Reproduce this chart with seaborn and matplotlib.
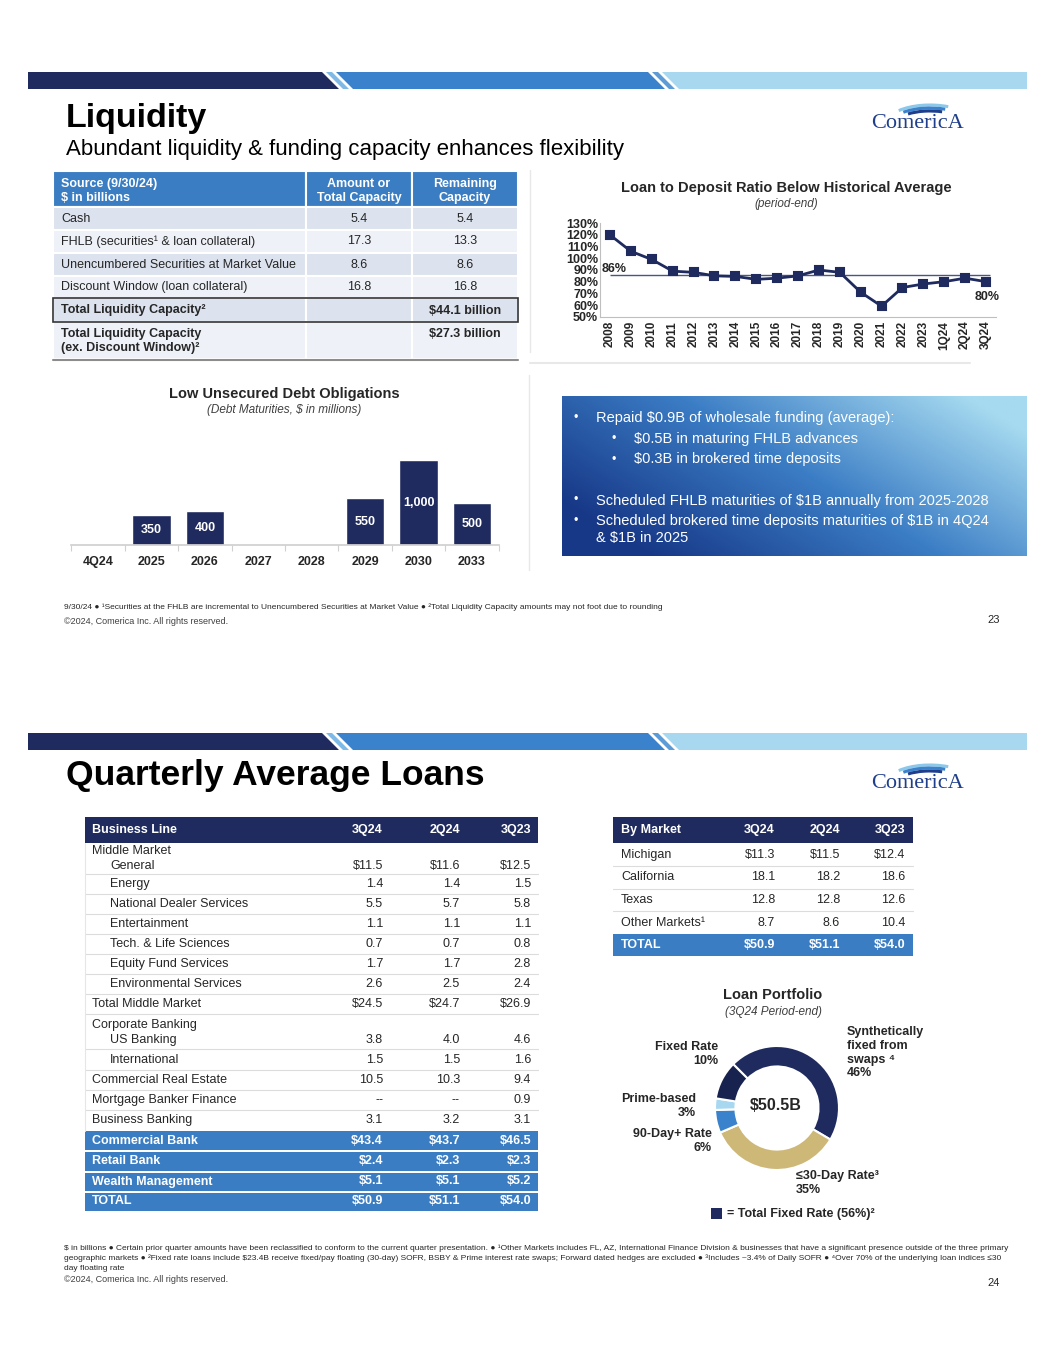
import numpy as np
import pandas as pd
import matplotlib
matplotlib.use("Agg")
import matplotlib.pyplot as plt
from matplotlib.patches import Rectangle, Polygon, Arc
from matplotlib.colors import LinearSegmentedColormap
import seaborn as sns

sns.set_theme(style="white")
plt.rcParams["font.family"] = ["Liberation Sans", "DejaVu Sans"]

W, H = 1055, 1365
NAVY = "#1f2b5e"
DARK_NAVY = "#18224e"
BLUE = "#3a7dc3"
MID_BLUE = "#3b82cc"
LIGHT_BLUE = "#a8d8ef"
TAN = "#cdb878"
TEXT = "#262626"

# ---------------- data ----------------
ltd_periods = ["2008", "2009", "2010", "2011", "2012", "2013", "2014", "2015", "2016",
               "2017", "2018", "2019", "2020", "2021", "2022", "2023", "1Q24", "2Q24", "3Q24"]
ltd_ratio = [120, 106, 99, 89, 88, 85, 84.5, 82, 83, 85, 90, 88, 71, 59, 75, 78, 80, 83, 80]
ltd_avg = 86

debt_years = ["4Q24", "2025", "2026", "2027", "2028", "2029", "2030", "2033"]
debt_maturities = [0, 350, 400, 0, 0, 550, 1000, 500]

liq_sources = ["Cash", "FHLB (securities¹ & loan collateral)",
               "Unencumbered Securities at Market Value", "Discount Window (loan collateral)"]
liq_amount = ["5.4", "17.3", "8.6", "16.8"]
liq_remaining = ["5.4", "13.3", "8.6", "16.8"]
liq_total = "$44.1 billion"
liq_total_ex_dw = "$27.3 billion"

funding_bullets = [
    (0, "Repaid $0.9B of wholesale funding (average):"),
    (1, "$0.5B in maturing FHLB advances"),
    (1, "$0.3B in brokered time deposits"),
    (0, "Scheduled FHLB maturities of $1B annually from 2025-2028"),
    (0, "Scheduled brokered time deposits maturities of $1B in 4Q24\n& $1B in 2025"),
]

quarters = ["3Q24", "2Q24", "3Q23"]
biz_lines = ["Middle Market", "General", "Energy", "National Dealer Services", "Entertainment",
             "Tech. & Life Sciences", "Equity Fund Services", "Environmental Services",
             "Total Middle Market", "Corporate Banking", "US Banking", "International",
             "Commercial Real Estate", "Mortgage Banker Finance", "Business Banking",
             "Commercial Bank", "Retail Bank", "Wealth Management", "TOTAL"]
biz_3q24 = ["", "$11.5", "1.4", "5.5", "1.1", "0.7", "1.7", "2.6", "$24.5", "", "3.8", "1.5",
            "10.5", "--", "3.1", "$43.4", "$2.4", "$5.1", "$50.9"]
biz_2q24 = ["", "$11.6", "1.4", "5.7", "1.1", "0.7", "1.7", "2.5", "$24.7", "", "4.0", "1.5",
            "10.3", "--", "3.2", "$43.7", "$2.3", "$5.1", "$51.1"]
biz_3q23 = ["", "$12.5", "1.5", "5.8", "1.1", "0.8", "2.8", "2.4", "$26.9", "", "4.6", "1.6",
            "9.4", "0.9", "3.1", "$46.5", "$2.3", "$5.2", "$54.0"]
biz_indented = ["General", "Energy", "National Dealer Services", "Entertainment",
                "Tech. & Life Sciences", "Equity Fund Services", "Environmental Services",
                "US Banking", "International"]
biz_banded = ["Commercial Bank", "Retail Bank", "Wealth Management", "TOTAL"]

markets = ["Michigan", "California", "Texas", "Other Markets¹", "TOTAL"]
mkt_3q24 = ["$11.3", "18.1", "12.8", "8.7", "$50.9"]
mkt_2q24 = ["$11.5", "18.2", "12.8", "8.6", "$51.1"]
mkt_3q23 = ["$12.4", "18.6", "12.6", "10.4", "$54.0"]

portfolio_labels = ["Synthetically\nfixed from\nswaps ⁴", "≤30-Day Rate³", "90-Day+ Rate",
                    "Prime-based", "Fixed Rate"]
portfolio_share = [46, 35, 6, 3, 10]
portfolio_colors = [NAVY, TAN, MID_BLUE, LIGHT_BLUE, DARK_NAVY]
portfolio_total = "$50.5B"

# ---------------- canvas ----------------
fig = plt.figure(figsize=(W / 100, H / 100), dpi=100)
bg = fig.add_axes([0, 0, 1, 1])
bg.set_xlim(0, W)
bg.set_ylim(H, 0)
bg.axis("off")


def ax_px(x0, y0, x1, y1):
    return fig.add_axes([x0 / W, 1 - y1 / H, (x1 - x0) / W, (y1 - y0) / H])


def txt(x, y, s, size=9, weight="normal", color=TEXT, ha="left", va="center", **kw):
    bg.text(x, y, s, fontsize=size, fontweight=weight, color=color, ha=ha, va=va, **kw)


def stripe(y0, y1):
    h = y1 - y0
    bg.add_patch(Polygon([(28, y0), (322, y0), (322 + h, y1), (28, y1)], color=NAVY, lw=0))
    bg.add_patch(Polygon([(326, y0), (332, y0), (332 + h, y1), (326 + h, y1)], color="#7fb9e6", lw=0))
    bg.add_patch(Polygon([(336, y0), (648, y0), (648 + h, y1), (336 + h, y1)], color=MID_BLUE, lw=0))
    bg.add_patch(Polygon([(652, y0), (658, y0), (658 + h, y1), (652 + h, y1)], color="#5d9bd6", lw=0))
    bg.add_patch(Polygon([(662, y0), (1027, y0), (1027, y1), (662 + h, y1)], color=LIGHT_BLUE, lw=0))


def logo(cx, cy):
    for w, hh, c in [(84, 34, "#8cc8ea"), (74, 28, MID_BLUE), (64, 22, "#1f3f8c")]:
        bg.add_patch(Arc((cx + 12, cy + 4), w, hh, theta1=200, theta2=320, color=c, lw=2.2))
    bg.text(cx, cy + 6, "ComericA", fontsize=16, color="#1f3f8c", ha="center", va="center",
            family=["Liberation Serif", "DejaVu Serif"])


# ================= PAGE 23 =================
stripe(72, 89)
txt(66, 118, "Liquidity", size=24.5, weight="heavy", color="black")
txt(66, 149, "Abundant liquidity & funding capacity enhances flexibility", size=16, color="black")
logo(918, 118)

# --- liquidity table ---
tx = [53, 306, 412, 518]
ROW_DARK, ROW_LIGHT = "#dce2ee", "#eef1f7"
for i in range(3):
    bg.add_patch(Rectangle((tx[i], 171), tx[i + 1] - tx[i], 36, facecolor=BLUE,
                           edgecolor="white", lw=1.5))
txt(61, 184, "Source (9/30/24)", weight="bold", color="white")
txt(61, 198, "$ in billions", weight="bold", color="white")
txt(359, 184, "Amount or", weight="bold", color="white", ha="center")
txt(359, 198, "Total Capacity", weight="bold", color="white", ha="center")
txt(465, 184, "Remaining", weight="bold", color="white", ha="center")
txt(465, 198, "Capacity", weight="bold", color="white", ha="center")

row_tops = [207, 230, 253, 276, 298, 322, 359]
for r in range(6):
    shade = ROW_DARK if r % 2 == 0 else ROW_LIGHT
    for i in range(3):
        bg.add_patch(Rectangle((tx[i], row_tops[r]), tx[i + 1] - tx[i], row_tops[r + 1] - row_tops[r],
                               facecolor=shade, edgecolor="white", lw=1.5))
for r, (src, amt, rem) in enumerate(zip(liq_sources, liq_amount, liq_remaining)):
    yc = (row_tops[r] + row_tops[r + 1]) / 2
    txt(61, yc, src)
    txt(359, yc, amt, ha="center")
    txt(465, yc, rem, ha="center")
txt(61, 310.5, "Total Liquidity Capacity²", weight="bold")
txt(465, 310.5, liq_total, weight="bold", ha="center")
txt(61, 334, "Total Liquidity Capacity", weight="bold")
txt(61, 348, "(ex. Discount Window)²", weight="bold")
txt(465, 334, liq_total_ex_dw, weight="bold", ha="center")
bg.add_patch(Rectangle((53, 298), 465, 24, fill=False, edgecolor="#333333", lw=1.2))
bg.plot([53, 518], [359.5, 359.5], color="#8c8c8c", lw=1.5)

# faint separators
bg.plot([530, 530], [170, 352], color="#e8e8e8", lw=1)
bg.plot([530, 970], [363, 363], color="#e8e8e8", lw=1.5)
bg.plot([529, 529], [375, 570], color="#e8e8e8", lw=1)

# --- loan to deposit line chart ---
txt(786, 188, "Loan to Deposit Ratio Below Historical Average", size=10.5, weight="bold", ha="center")
txt(786, 204.5, "(period-end)", size=8.5, style="italic", ha="center", color="#404040")
ltd_df = pd.DataFrame({"period": ltd_periods, "ratio": ltd_ratio})
ax1 = ax_px(599.6, 223.3, 996.4, 316.7)
sns.pointplot(data=ltd_df, x="period", y="ratio", color=NAVY, markers="s", errorbar=None,
              markersize=5.2, linewidth=2.0, ax=ax1)
ax1.hlines(ltd_avg, 0, 18.2, color="#4a5580", lw=1.0, zorder=0)
ax1.set_xlim(-0.5, len(ltd_periods) - 0.5)
ax1.set_ylim(50, 130)
ax1.set_yticks(range(50, 131, 10))
ax1.set_yticklabels([f"{v}%" for v in range(50, 131, 10)])
ax1.set_xlabel("")
ax1.set_ylabel("")
ax1.tick_params(axis="y", labelsize=9, pad=1, length=0, labelcolor=TEXT)
ax1.tick_params(axis="x", labelsize=8.5, rotation=90, pad=3, length=0, labelcolor=TEXT)
for lbl in ax1.get_xticklabels() + ax1.get_yticklabels():
    lbl.set_fontweight("bold")
for s in ["top", "right"]:
    ax1.spines[s].set_visible(False)
for s in ["left", "bottom"]:
    ax1.spines[s].set_color("#bfbfbf")
    ax1.spines[s].set_linewidth(0.8)
ax1.patch.set_alpha(0)
txt(602, 268.5, f"{ltd_avg}%", size=9, weight="bold")
txt(987, 297, f"{ltd_ratio[-1]}%", size=9, weight="bold", ha="center")

# --- unsecured debt bar chart ---
txt(284, 394, "Low Unsecured Debt Obligations", size=10.5, weight="bold", ha="center")
txt(284, 410.5, "(Debt Maturities, $ in millions)", size=8.5, style="italic", ha="center", color="#404040")
ax2 = ax_px(71.3, 451.5, 498.7, 545)
sns.barplot(x=debt_years, y=debt_maturities, color=NAVY, saturation=1, width=0.72, ax=ax2)
ax2.set_ylim(0, 1100)
ax2.set_xlim(-0.5, len(debt_years) - 0.5)
for cont in ax2.containers:
    ax2.bar_label(cont, labels=[f"{v:,.0f}" if v > 0 else "" for v in debt_maturities],
                  label_type="center", color="white", fontsize=9, fontweight="bold")
ax2.set_yticks([])
ax2.set_xticks(np.arange(-0.5, len(debt_years), 1.0), minor=True)
ax2.tick_params(axis="x", which="major", length=0, labelsize=9, pad=8, labelcolor=TEXT)
ax2.tick_params(axis="x", which="minor", length=4, width=0.8, color="#d0d0d0", bottom=True)
for lbl in ax2.get_xticklabels():
    lbl.set_fontweight("bold")
for s in ["top", "right", "left"]:
    ax2.spines[s].set_visible(False)
ax2.spines["bottom"].set_color("#d0d0d0")
ax2.patch.set_alpha(0)

# --- gradient bullet box ---
gx, gy = np.meshgrid(np.linspace(0, 1, 300), np.linspace(0, 1, 100))
grad = np.clip(0.8 * gx + 0.45 * (1 - gy) - 0.15, 0, 1)
cmap = LinearSegmentedColormap.from_list("box", ["#173887", "#3b7dc5", "#a6daf0"])
bg.imshow(grad, cmap=cmap, extent=(562, 1027, 556, 396), origin="upper", aspect="auto", zorder=1)
bg.set_xlim(0, W)
bg.set_ylim(H, 0)
by = [418, 439, 459.5, 500.5, 521]
for (lvl, s), y in zip(funding_bullets, by):
    bx = 574 if lvl == 0 else 612
    txt(bx, y, "•", size=9, color="white", zorder=2)
    bg.text(bx + 22, y - 7, s, fontsize=10.5, color="white", ha="left", va="top",
            linespacing=1.25, zorder=2)

txt(64, 607, "9/30/24 ● ¹Securities at the FHLB are incremental to Unencumbered Securities at Market Value "
             "● ²Total Liquidity Capacity amounts may not foot due to rounding", size=6, color=TEXT)
txt(64, 622, "©2024, Comerica Inc. All rights reserved.", size=6.5, color="#404040")
txt(994, 620, "23", size=8, color=TEXT, ha="center")

# ================= PAGE 24 =================
stripe(733, 750)
txt(66, 775, "Quarterly Average Loans", size=25.5, weight="heavy", color="black")
logo(918, 778)

# --- business line table ---
bx0, bx1 = 85, 538
biz_x = [383, 460, 531]
bg.add_patch(Rectangle((bx0, 817), bx1 - bx0, 26, color=NAVY, lw=0))
txt(92, 830, "Business Line", weight="bold", color="white")
for x, q in zip(biz_x, quarters):
    txt(x, 830, q, weight="bold", color="white", ha="right")
biz_y = [851, 866, 884, 904, 924, 944, 964, 984, 1004, 1025, 1040, 1060, 1080, 1100, 1120,
         1140.5, 1161, 1181.5, 1201.5]
band_tops = [1131, 1152, 1172.5, 1192.5]
for line_y in [874, 894, 914, 934, 954, 974, 994, 1014, 1049, 1070, 1090, 1110]:
    bg.plot([bx0, bx1], [line_y, line_y], color="#dcdcdc", lw=0.8)
bg.plot([bx0, bx0], [843, 1131], color="#e6e6e6", lw=0.8)
for t in band_tops:
    bg.add_patch(Rectangle((bx0, t), bx1 - bx0, 18.5, color=BLUE, lw=0))
for name, v1, v2, v3, y in zip(biz_lines, biz_3q24, biz_2q24, biz_3q23, biz_y):
    banded = name in biz_banded
    col = "white" if banded else TEXT
    wt = "bold" if banded else "normal"
    txt(110 if name in biz_indented else 92, y, name, color=col, weight=wt)
    for x, v in zip(biz_x, [v1, v2, v3]):
        txt(x, y, v, color=col, weight=wt, ha="right")

# --- by market table ---
mx0, mx1 = 613, 913
mkt_x = [775, 840, 905]
bg.add_patch(Rectangle((mx0, 817), mx1 - mx0, 26, color=NAVY, lw=0))
txt(621, 830, "By Market", weight="bold", color="white")
for x, q in zip(mkt_x, quarters):
    txt(x, 830, q, weight="bold", color="white", ha="right")
for line_y in [866, 888.5, 911]:
    bg.plot([mx0, mx1], [line_y, line_y], color="#dcdcdc", lw=0.8)
bg.add_patch(Rectangle((mx0, 934), mx1 - mx0, 21.5, color=BLUE, lw=0))
mkt_y = [855, 877.5, 900, 922.5, 944.5]
for name, v1, v2, v3, y in zip(markets, mkt_3q24, mkt_2q24, mkt_3q23, mkt_y):
    total = name == "TOTAL"
    col = "white" if total else TEXT
    wt = "bold" if total else "normal"
    txt(621, y, name, color=col, weight=wt)
    for x, v in zip(mkt_x, [v1, v2, v3]):
        txt(x, y, v, color=col, weight=wt, ha="right")

# --- loan portfolio donut ---
txt(773, 995, "Loan Portfolio", size=10.5, weight="bold", ha="center")
txt(773, 1012, "(3Q24 Period-end)", size=8.5, style="italic", ha="center", color="#404040")
cx, cy, r = 777, 1108, 62
ax3 = ax_px(cx - r, cy - r, cx + r, cy + r)
ax3.pie(portfolio_share, colors=portfolio_colors, startangle=135, counterclock=False,
        wedgeprops=dict(width=0.33, edgecolor="white", linewidth=1.5))
ax3.set_xlim(-1, 1)
ax3.set_ylim(-1, 1)
ax3.axis("off")
txt(776, 1106, portfolio_total, size=11.5, weight="bold", ha="center")

lab_pos = {
    0: (847, 1033, "left"),
    1: (796, 1177, "left"),
    2: (712, 1135, "right"),
    3: (696, 1100, "right"),
    4: (718, 1048, "right"),
}
for i, (lab, share) in enumerate(zip(portfolio_labels, portfolio_share)):
    x, y, ha = lab_pos[i]
    bg.text(x, y - 7, f"{lab}\n{share}%", fontsize=9, fontweight="bold", color=TEXT,
            ha=ha, va="top", linespacing=1.2, multialignment=ha)
bg.add_patch(Rectangle((711, 1208), 10.5, 10.5, color=NAVY, lw=0))
txt(727, 1214, "= Total Fixed Rate (56%)²", size=9, weight="bold")

fn2 = [
    "$ in billions ● Certain prior quarter amounts have been reclassified to conform to the current quarter "
    "presentation. ● ¹Other Markets includes FL, AZ, International Finance Division & businesses that have a "
    "significant presence outside of the three primary",
    "geographic markets ● ²Fixed rate loans include $23.4B receive fixed/pay floating (30-day) SOFR, BSBY & "
    "Prime interest rate swaps; Forward dated hedges are excluded ● ³Includes ~3.4% of Daily SOFR ● ⁴Over 70% "
    "of the underlying loan indices ≤30",
    "day floating rate",
]
for i, line in enumerate(fn2):
    txt(64, 1248 + i * 10.5, line, size=6, color=TEXT)
txt(64, 1280, "©2024, Comerica Inc. All rights reserved.", size=6.5, color="#404040")
txt(994, 1283, "24", size=8, color=TEXT, ha="center")

fig.savefig("out.png", dpi=100)
